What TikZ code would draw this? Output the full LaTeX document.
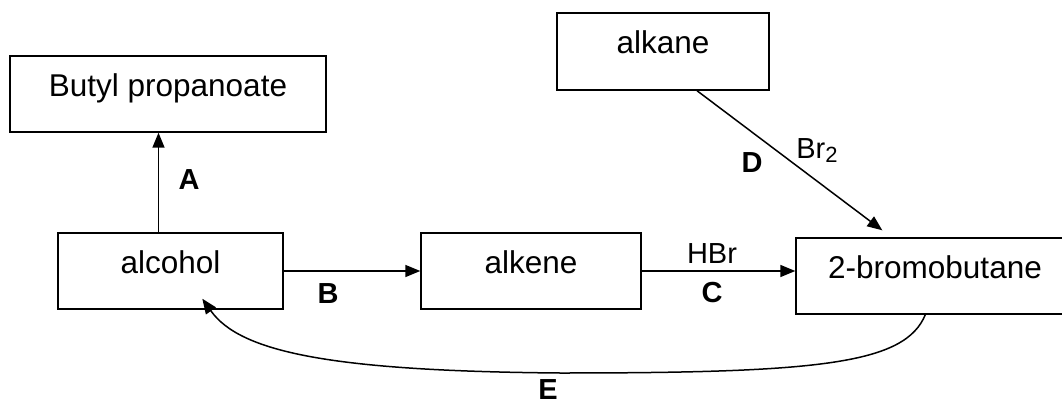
\documentclass[tikz,border=0pt]{standalone}
\usepackage{fontspec}
\setmainfont{Liberation Sans}
\usetikzlibrary{arrows.meta,calc}
\begin{document}
\begin{tikzpicture}[x=1pt,y=-1pt,
  box/.style={draw, line width=1.4pt, inner sep=0pt, text height=22pt, text depth=17pt, font=\fontsize{31.5}{36}\selectfont},
  arr/.style={line width=1.5pt, -{Triangle[length=15pt,width=12pt]}},
  lbl/.style={font=\fontsize{29}{32}\selectfont\bfseries, inner sep=0pt, anchor=base},
  reag/.style={font=\fontsize{29}{32}\selectfont, inner sep=0pt, anchor=base}]
\useasboundingbox (0,0) rectangle (1062,404);
\node[box, minimum width=316pt, minimum height=76pt] (butyl) at (168,94) {Butyl propanoate};
\node[box, minimum width=225pt, minimum height=76pt] (alcohol) at (170.5,271) {alcohol};
\node[box, minimum width=220pt, minimum height=76pt] (alkene) at (531,271) {alkene};
\node[box, minimum width=212pt, minimum height=77pt] (alkane) at (663,51.5) {alkane};
\node[box, minimum width=278pt, minimum height=76pt] (bromo) at (935,276) {2-bromobutane};
% A
\draw[arr] ([xshift=-12pt]alcohol.north) -- ([xshift=-12pt]alcohol.north |- butyl.south);
\node[lbl] (lA) at (189,189) {A};
% B
\draw[arr] (alcohol.east) -- (alkene.west);
\node[lbl] (lB) at (328,303) {B};
% C
\draw[arr] (alkene.east) -- (alkene.east -| bromo.west);
\node[reag] (hbr) at (712,263) {HBr};
\node[lbl] (lC) at (712,302) {C};
% D
\coordinate (dend) at ([xshift=87pt,yshift=7pt]bromo.north west);
\draw[arr] ([xshift=34pt]alkane.south) -- (dend);
\node[lbl] (lD) at (752,172) {D};
\node[reag, font=\fontsize{29}{30}\selectfont] (br2) at (817,158) {Br{\fontsize{22}{24}\selectfont\raisebox{-4pt}{2}}};
% E
\coordinate (estart) at ([xshift=130pt]bromo.south west);
\coordinate (eend) at ([xshift=145pt,yshift=11pt]alcohol.south west);
\coordinate (emid) at (560,373);
\draw[arr] (estart) .. controls (905,364) and (820,373) .. (emid)
  .. controls (330,371) and (240,352) .. (eend);
\node[lbl] (lE) at (548,399) {E};
\end{tikzpicture}
\end{document}
